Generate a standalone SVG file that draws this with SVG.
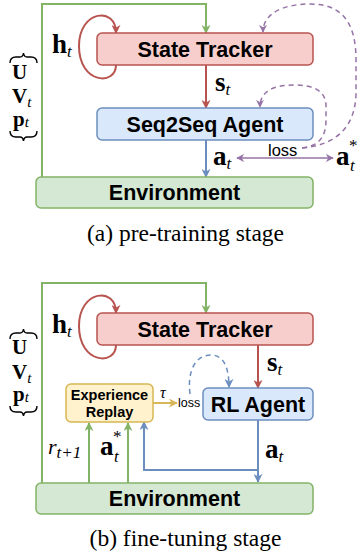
<svg xmlns="http://www.w3.org/2000/svg" width="360" height="557" viewBox="0 0 360 557">
<style>
.box{stroke-width:1.5}
.red{fill:#f8cecc;stroke:#b85450}
.blue{fill:#dae8fc;stroke:#6c8ebf}
.green{fill:#d5e8d4;stroke:#82b366}
.yellow{fill:#fff2cc;stroke:#d6b656}
.lbl{font-family:"Liberation Sans",Arial,sans-serif;font-weight:bold;font-size:21.5px;fill:#000;text-anchor:middle}
.small{font-family:"Liberation Sans",Arial,sans-serif;font-weight:bold;font-size:14.5px;fill:#000;text-anchor:middle}
.loss{font-family:"Liberation Sans",Arial,sans-serif;fill:#000}
.mb{font-family:"Liberation Serif","Times New Roman",serif;font-weight:bold;font-size:27px;fill:#000}
.mv{font-family:"Liberation Serif","Times New Roman",serif;font-weight:bold;font-size:21px;fill:#000}
.sub{font-family:"Liberation Serif","Times New Roman",serif;font-style:italic;font-weight:normal;font-size:17px}
.subs{font-family:"Liberation Serif","Times New Roman",serif;font-style:italic;font-weight:normal;font-size:15px}
.cap{font-family:"Liberation Serif","Times New Roman",serif;font-size:23.5px;fill:#000;text-anchor:middle}
.c{fill:none;stroke-width:2}
.cr{stroke:#b85450}.cb{stroke:#6c8ebf}.cg{stroke:#82b366}.cp{stroke:#9673a6}.cy{stroke:#d6b656}
.dash{stroke-dasharray:5 4;stroke-width:1.5}
.brace{fill:none;stroke:#000;stroke-width:1.4}
</style>
<defs>
<marker id="ar" viewBox="0 0 10 10" refX="9" refY="5" markerWidth="9" markerHeight="9" markerUnits="userSpaceOnUse" orient="auto"><path d="M0,0 L10,5 L0,10 L3,5 z" fill="#b85450"/></marker>
<marker id="ab" viewBox="0 0 10 10" refX="9" refY="5" markerWidth="9" markerHeight="9" markerUnits="userSpaceOnUse" orient="auto"><path d="M0,0 L10,5 L0,10 L3,5 z" fill="#6c8ebf"/></marker>
<marker id="ag" viewBox="0 0 10 10" refX="9" refY="5" markerWidth="9" markerHeight="9" markerUnits="userSpaceOnUse" orient="auto"><path d="M0,0 L10,5 L0,10 L3,5 z" fill="#82b366"/></marker>
<marker id="ap" viewBox="0 0 10 10" refX="9" refY="5" markerWidth="8" markerHeight="8" markerUnits="userSpaceOnUse" orient="auto-start-reverse"><path d="M0,0 L10,5 L0,10 L3,5 z" fill="#9673a6"/></marker>
<marker id="ay" viewBox="0 0 10 10" refX="9" refY="5" markerWidth="9" markerHeight="9" markerUnits="userSpaceOnUse" orient="auto"><path d="M0,0 L10,5 L0,10 L3,5 z" fill="#d6b656"/></marker>
</defs>

<g id="connectors">
<!-- panel a -->
<path class="c cg" d="M42,177 L42,4 L206,4 L206,33" marker-end="url(#ag)"/>
<path class="c cr" d="M116,65 C116,86 79,84 79,46 C79,10 116,6 116,33" marker-end="url(#ar)"/>
<path class="c cr" d="M206,65 L206,108" marker-end="url(#ar)"/>
<path class="c cb" d="M206,140 L206,177" marker-end="url(#ab)"/>
<path class="c cp" style="stroke-width:1.5" d="M237,158 L333,158" marker-start="url(#ap)" marker-end="url(#ap)"/>
<path class="c cp dash" d="M302,148 C338,145 356,125 356,92 L356,60 C356,20 340,4 310,4 C282,4 263,14 263,32" marker-end="url(#ap)"/>
<path class="c cp dash" d="M302,148 C318,146 326,138 326,120 L326,106 C326,91 314,85 294,85 C272,85 260,92 260,107" marker-end="url(#ap)"/>
<!-- panel b -->
<path class="c cg" d="M42,483 L42,283 L206,283 L206,313" marker-end="url(#ag)"/>
<path class="c cr" d="M116,345 C116,366 79,364 79,326 C79,290 116,286 116,313" marker-end="url(#ar)"/>
<path class="c cr" d="M258,345 L258,388" marker-end="url(#ar)"/>
<path class="c cb" d="M258,420 L258,482" marker-end="url(#ab)"/>
<path class="c cb" d="M258,470 L144,470 L144,422" marker-end="url(#ab)"/>
<path class="c cg" d="M89,483 L89,423" marker-end="url(#ag)"/>
<path class="c cg" d="M128,483 L128,423" marker-end="url(#ag)"/>
<path class="c cy" d="M153,403 L177,403" marker-end="url(#ay)"/>
<path class="c cb dash" d="M190,394 C187,370 196,355 211,355 C224,355 229,368 229,387" marker-end="url(#ab)"/>
</g>

<g id="state-tracker-a">
<rect class="box red" x="97" y="33" width="216" height="32" rx="5"/>
<text class="lbl" x="205" y="56.5">State Tracker</text>
</g>
<g id="seq2seq-agent">
<rect class="box blue" x="97" y="108" width="216" height="32" rx="5"/>
<text class="lbl" x="205" y="131.5">Seq2Seq Agent</text>
</g>
<g id="environment-a">
<rect class="box green" x="36" y="177" width="277" height="31" rx="5"/>
<text class="lbl" x="174.5" y="200">Environment</text>
</g>

<g id="state-tracker-b">
<rect class="box red" x="97" y="313" width="216" height="32" rx="5"/>
<text class="lbl" x="205" y="336.5">State Tracker</text>
</g>
<g id="rl-agent">
<rect class="box blue" x="203" y="388" width="110" height="32" rx="5"/>
<text class="lbl" x="258" y="411.5">RL Agent</text>
</g>
<g id="experience-replay">
<rect class="box yellow" x="66" y="384" width="87" height="38" rx="5"/>
<text class="small" x="109.5" y="400">Experience</text>
<text class="small" x="109.5" y="417">Replay</text>
</g>
<g id="environment-b">
<rect class="box green" x="36" y="483" width="277" height="31" rx="5"/>
<text class="lbl" x="174.5" y="506">Environment</text>
</g>

<g id="labels-a">
<text class="mb" x="52" y="53">h<tspan class="sub" dy="4">t</tspan></text>
<text class="mb" x="215" y="91">s<tspan class="sub" dy="4">t</tspan></text>
<text class="mb" x="213" y="165">a<tspan class="sub" dy="4">t</tspan></text>
<text class="mb" x="336" y="165">a</text>
<text class="sub" x="350" y="171">t</text>
<text class="sub" x="349" y="151" style="font-style:normal">*</text>
<text class="loss" x="268" y="156" style="font-size:16.5px">loss</text>
<path class="brace" d="M10,63 Q10,57 16,57 L20,57 Q23,57 23.5,53 Q24,57 27,57 L31,57 Q37,57 37,63"/>
<text class="mv" x="12" y="79">U</text>
<text class="mv" x="12" y="103">V<tspan class="subs" dy="4">t</tspan></text>
<text class="mv" x="13" y="126">p<tspan class="subs" dy="1">t</tspan></text>
<path class="brace" d="M10,131 Q10,137 16,137 L20,137 Q23,137 23.5,141 Q24,137 27,137 L31,137 Q37,137 37,131"/>
<text class="cap" x="185.5" y="241">(a) pre-training stage</text>
</g>

<g id="labels-b">
<text class="mb" x="52" y="333">h<tspan class="sub" dy="4">t</tspan></text>
<text class="mb" x="267" y="371">s<tspan class="sub" dy="4">t</tspan></text>
<text class="mb" x="265" y="458">a<tspan class="sub" dy="4">t</tspan></text>
<text class="mb" x="100" y="455">a</text>
<text class="sub" x="114" y="462">t</text>
<text class="sub" x="113" y="442" style="font-style:normal">*</text>
<text class="sub" x="48" y="454" style="font-size:22px">r<tspan style="font-size:17px" dy="4">t+1</tspan></text>
<text class="sub" x="160" y="398" style="font-size:16px">τ</text>
<text class="loss" x="178" y="407" style="font-size:12.5px">loss</text>
<path class="brace" d="M10,339 Q10,333 16,333 L20,333 Q23,333 23.5,329 Q24,333 27,333 L31,333 Q37,333 37,339"/>
<text class="mv" x="12" y="354">U</text>
<text class="mv" x="12" y="379">V<tspan class="subs" dy="4">t</tspan></text>
<text class="mv" x="13" y="401">p<tspan class="subs" dy="1">t</tspan></text>
<path class="brace" d="M10,406 Q10,412 16,412 L20,412 Q23,412 23.5,416 Q24,412 27,412 L31,412 Q37,412 37,406"/>
<text class="cap" x="185.5" y="546">(b) fine-tuning stage</text>
</g>
</svg>
